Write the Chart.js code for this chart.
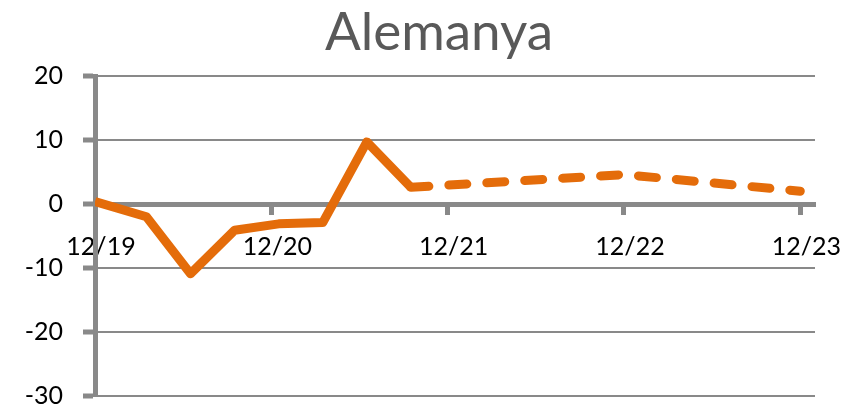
<!DOCTYPE html>
<html>
<head>
<meta charset="utf-8">
<script src="https://cdn.jsdelivr.net/npm/chart.js@4"></script>
<style>
  html, body { margin: 0; padding: 0; background: #fff; }
</style>
</head>
<body>
<canvas id="chart" width="853" height="409"></canvas>
<script>
// dades llegides del gràfic (mesos des de 12/19)
const months = [0, 3.5, 6.5, 9.5, 12.5, 15.5, 18.5, 21.5];
const values = [0.4, -2.0, -10.9, -4.1, -3.1, -2.9, 9.7, 2.6];
const forecastMonths = [21.5, 36, 48];
const forecast = [2.6, 4.6, 2.0];
const xLabels = ['12/19', '12/20', '12/21', '12/22', '12/23'];
const xTicks = [0, 12, 24, 36, 48];
const yTicks = [-30, -20, -10, 0, 10, 20];

const orange = '#E46C0A';
const grey = '#898989';

const toPoints = (xs, ys) => xs.map((x, i) => ({ x: x, y: ys[i] }));

// títol centrat on és a l'original
const titlePlugin = {
  id: 'titol',
  afterDraw(chart) {
    const c = chart.ctx;
    c.save();
    c.fillStyle = '#595959';
    c.font = 'normal 53px Lato';
    c.textAlign = 'center';
    c.textBaseline = 'alphabetic';
    c.fillText('Alemanya', 439, 50);
    c.restore();
  }
};

const ctx = document.getElementById('chart').getContext('2d');
const chart = new Chart(ctx, {
  type: 'line',
  data: {
    datasets: [{
      data: toPoints(months, values),
      borderColor: orange,
      borderWidth: 9,
      borderJoinStyle: 'round',
      pointRadius: 0,
      tension: 0
    }, {
      data: toPoints(forecastMonths, forecast),
      borderColor: orange,
      borderWidth: 9,
      borderDash: [18, 20],
      borderCapStyle: 'round',
      borderJoinStyle: 'round',
      pointRadius: 0,
      tension: 0
    }]
  },
  plugins: [titlePlugin],
  options: {
    responsive: false,
    animation: false,
    layout: { autoPadding: false, padding: { left: 0, right: 38, top: 76, bottom: 13 } },
    plugins: {
      legend: { display: false },
      tooltip: { enabled: false },
      title: { display: false }
    },
    scales: {
      x: {
        type: 'linear',
        position: { y: 0 },
        min: 0,
        max: 49,
        afterFit: (axis) => {
          axis.height = 0;
          axis.paddingLeft = 0; axis.paddingRight = 0;
          axis.paddingTop = 0; axis.paddingBottom = 0;
        },
        afterBuildTicks: (axis) => { axis.ticks = xTicks.map(v => ({ value: v })); },
        grid: { drawOnChartArea: false, color: grey, tickLength: 8, tickWidth: 5 },
        border: { color: grey, width: 5 },
        ticks: {
          padding: 20,
          labelOffset: 6,
          color: '#000',
          font: { family: 'Lato', size: 25 },
          maxRotation: 0,
          autoSkip: false,
          callback: (v) => xLabels[xTicks.indexOf(v)]
        }
      },
      y: {
        min: -30,
        max: 20,
        afterFit: (axis) => {
          axis.width = 95;
          axis.paddingTop = 0; axis.paddingBottom = 0;
        },
        afterBuildTicks: (axis) => { axis.ticks = yTicks.map(v => ({ value: v })); },
        grid: { color: grey, lineWidth: 2, tickLength: 12, tickWidth: 5 },
        border: { color: grey, width: 5 },
        ticks: {
          padding: 20,
          color: '#000',
          font: { family: 'Lato', size: 25 }
        }
      }
    }
  }
});
</script>
</body>
</html>
